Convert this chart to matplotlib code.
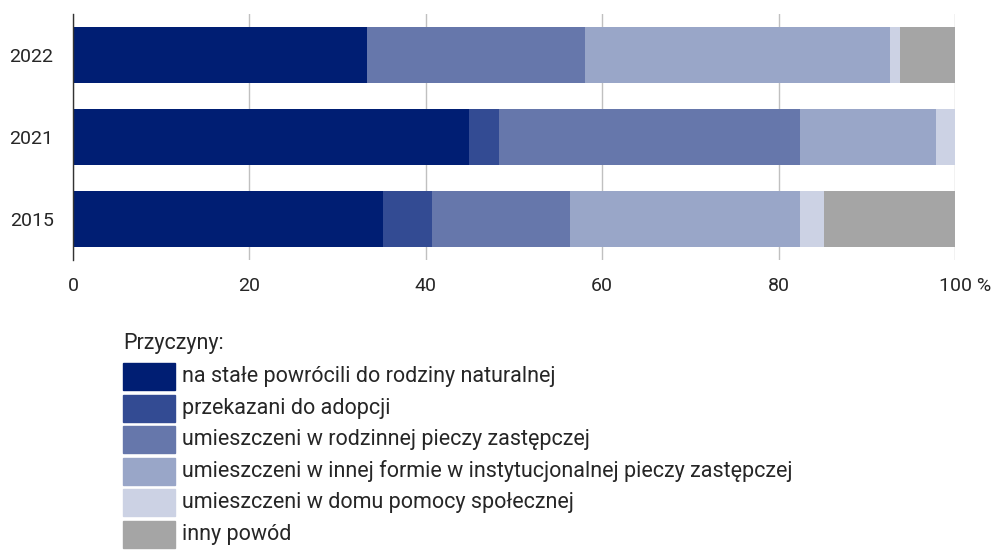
import matplotlib
matplotlib.use("Agg")
import matplotlib.pyplot as plt
import matplotlib.transforms as mtransforms
import numpy as np

# ---- DATA ----
years = ["2022", "2021", "2015"]
categories = [
    "na stałe powrócili do rodziny naturalnej",
    "przekazani do adopcji",
    "umieszczeni w rodzinnej pieczy zastępczej",
    "umieszczeni w innej formie w instytucjonalnej pieczy zastępczej",
    "umieszczeni w domu pomocy społecznej",
    "inny powód",
]
# shares (%) per category, order follows `years`
powrot    = [33.3, 44.9, 35.2]
adopcja   = [0.0, 3.4, 5.5]
rodzinna  = [24.7, 34.1, 15.7]
instyt    = [34.6, 15.4, 26.0]
dps       = [1.2, 2.2, 2.8]
inny      = [6.2, 0.0, 14.8]
series = [powrot, adopcja, rodzinna, instyt, dps, inny]
colors = ["#001e73", "#334b93", "#6677ab", "#99a6c8", "#ccd2e4", "#a5a5a5"]
xticks = [0, 20, 40, 60, 80, 100]
xticklabels = ["0", "20", "40", "60", "80", "100 %"]
legend_title = "Przyczyny:"
# ----------------

plt.rcParams["font.family"] = ["Roboto", "DejaVu Sans"]
TXT = "#262626"

fig = plt.figure(figsize=(9.98, 5.5), dpi=100)
ax = fig.add_axes([73 / 998, 1 - 260 / 550, (955 - 73) / 998, 246 / 550])

y = np.arange(len(years))
left = np.zeros(len(years))
for vals, col in zip(series, colors):
    ax.barh(y, vals, left=left, height=0.695, color=col, linewidth=0)
    left += np.array(vals)

ax.set_xlim(0, 100)
ax.set_ylim(2.5, -0.5)
ax.set_yticks(y)
ax.set_yticklabels(years, fontsize=14, color=TXT)
ax.set_xticks(xticks)
ax.set_xticklabels(xticklabels, fontsize=14, color=TXT)
ax.tick_params(axis="y", length=0, pad=14)
ax.tick_params(axis="x", length=0, pad=12)
lbl = ax.get_xticklabels()[-1]
lbl.set_transform(lbl.get_transform() + mtransforms.ScaledTranslation(10 / 100, 0, fig.dpi_scale_trans))

ax.grid(axis="x", color="#c0c0c0", linewidth=1)
ax.set_axisbelow(True)
for s in ["top", "right", "bottom"]:
    ax.spines[s].set_visible(False)
ax.spines["left"].set_color("#333333")
ax.spines["left"].set_linewidth(1)

# legend drawn by hand below the chart
fig.text(123 / 998, 1 - 343 / 550, legend_title, fontsize=15.5, color=TXT, va="center")
for i, (lab, col) in enumerate(zip(categories, colors)):
    yc = 376.5 + i * 31.6
    fig.patches.append(plt.Rectangle((123 / 998, 1 - (yc + 13.5) / 550), 52 / 998, 27 / 550,
                                     transform=fig.transFigure, color=col, figure=fig))
    fig.text(182 / 998, 1 - yc / 550, lab, fontsize=15.5, color=TXT, va="center")

fig.savefig("out.png", dpi=100)
